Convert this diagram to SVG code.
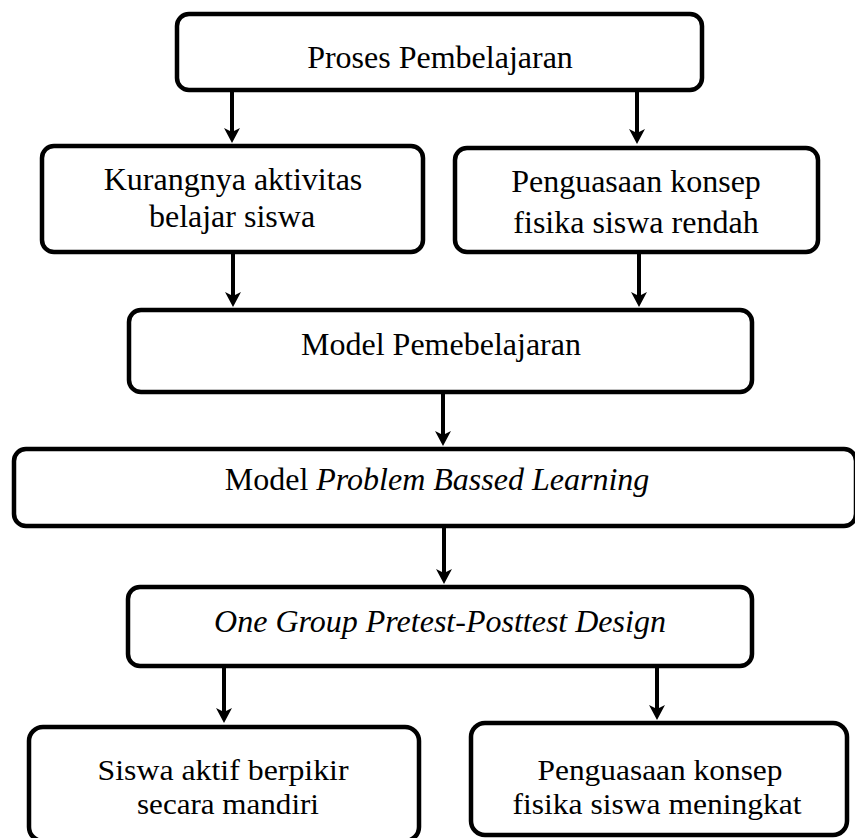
<svg xmlns="http://www.w3.org/2000/svg" width="855" height="838" viewBox="0 0 855 838">
<style>
.box{fill:#fff;stroke:#000;stroke-width:4.5}
.t{font-family:"Liberation Serif","Times New Roman",serif;font-size:32px;fill:#000;text-anchor:middle}
.s{font-size:29px}
.i{font-style:italic}
.c{stroke:#000;stroke-width:4;fill:none;marker-end:url(#ah)}
</style>
<defs>
<marker id="ah" markerUnits="userSpaceOnUse" viewBox="-6 -8 17 16" markerWidth="17" markerHeight="16" refX="0" refY="0" orient="auto" overflow="visible">
<path d="M10,0 L-5,-8 L-1,0 L-5,8 Z" fill="#000"/>
</marker>
</defs>
<rect width="855" height="838" fill="#fff"/>
<g id="connectors">
<line class="c" x1="232" y1="92" x2="232" y2="133"/>
<line class="c" x1="637" y1="92" x2="637" y2="134"/>
<line class="c" x1="233" y1="254" x2="233" y2="297"/>
<line class="c" x1="639" y1="254" x2="639" y2="297"/>
<line class="c" x1="443" y1="394" x2="443" y2="436"/>
<line class="c" x1="444" y1="528" x2="444" y2="574"/>
<line class="c" x1="224" y1="668" x2="224" y2="713"/>
<line class="c" x1="657" y1="668" x2="657" y2="710"/>
</g>
<g id="n1">
<rect class="box" x="177" y="14" width="525" height="76" rx="12"/>
<text class="t" x="440" y="68">Proses Pembelajaran</text>
</g>
<g id="n2">
<rect class="box" x="42" y="146" width="381" height="106" rx="12"/>
<text class="t" x="233" y="190">Kurangnya aktivitas</text>
<text class="t" x="232" y="227">belajar siswa</text>
</g>
<g id="n3">
<rect class="box" x="455" y="148" width="363" height="104" rx="12"/>
<text class="t" x="636" y="192">Penguasaan konsep</text>
<text class="t" x="636" y="233">fisika siswa rendah</text>
</g>
<g id="n4">
<rect class="box" x="129" y="310" width="623" height="82" rx="12"/>
<text class="t" x="441" y="355">Model Pemebelajaran</text>
</g>
<g id="n5">
<rect class="box" x="14" y="449" width="842" height="77" rx="12"/>
<text class="t" x="437" y="490">Model <tspan class="i">Problem Bassed Learning</tspan></text>
</g>
<g id="n6">
<rect class="box" x="128" y="587" width="624" height="79" rx="12"/>
<text class="t i" x="440" y="632">One Group Pretest-Posttest Design</text>
</g>
<g id="n7">
<rect class="box" x="29" y="727" width="390" height="114" rx="14"/>
<text class="t s" x="223" y="780" textLength="251" lengthAdjust="spacingAndGlyphs">Siswa aktif berpikir</text>
<text class="t s" x="228" y="814" textLength="182" lengthAdjust="spacingAndGlyphs">secara mandiri</text>
</g>
<g id="n8">
<rect class="box" x="471" y="723" width="376" height="112" rx="14"/>
<text class="t s" x="660" y="780" textLength="245" lengthAdjust="spacingAndGlyphs">Penguasaan konsep</text>
<text class="t s" x="657" y="814" textLength="289" lengthAdjust="spacingAndGlyphs">fisika siswa meningkat</text>
</g>
</svg>
